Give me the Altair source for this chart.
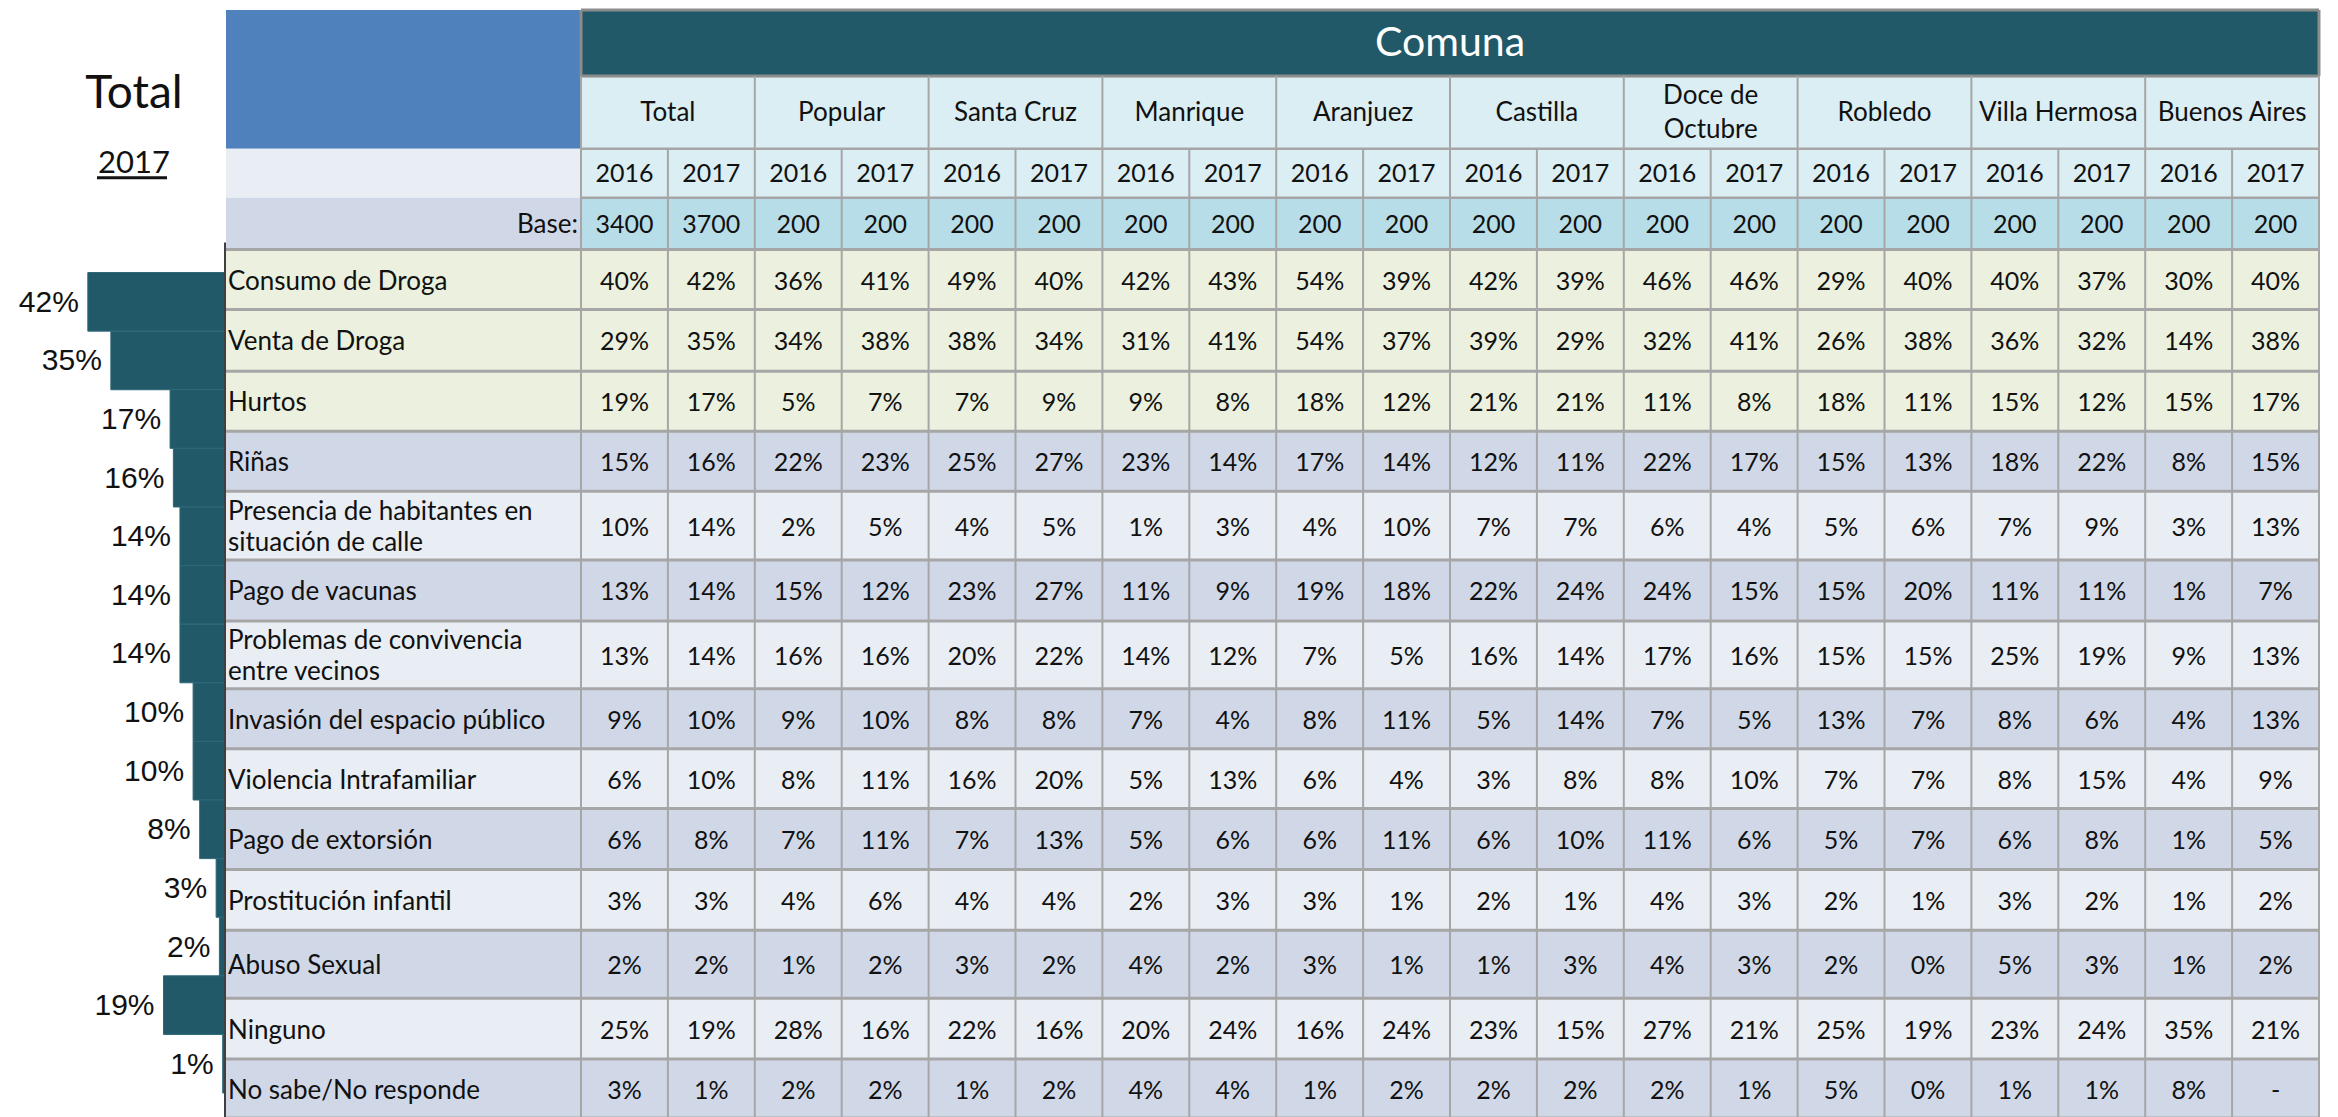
import altair as alt
import pandas as pd

# ---------------- data ----------------
districts = ["Total", "Popular", "Santa Cruz", "Manrique", "Aranjuez", "Castilla",
             "Doce de\nOctubre", "Robledo", "Villa Hermosa", "Buenos Aires"]
years = ["2016", "2017"]
base_sizes = [3400, 3700, 200, 200, 200, 200, 200, 200, 200, 200,
              200, 200, 200, 200, 200, 200, 200, 200, 200, 200]

problems = ["Consumo de Droga", "Venta de Droga", "Hurtos", "Riñas",
            "Presencia de habitantes en\nsituación de calle", "Pago de vacunas",
            "Problemas de convivencia\nentre vecinos", "Invasión del espacio público",
            "Violencia Intrafamiliar", "Pago de extorsión", "Prostitución infantil",
            "Abuso Sexual", "Ninguno", "No sabe/No responde"]

consumo_droga = [40, 42, 36, 41, 49, 40, 42, 43, 54, 39, 42, 39, 46, 46, 29, 40, 40, 37, 30, 40]
venta_droga = [29, 35, 34, 38, 38, 34, 31, 41, 54, 37, 39, 29, 32, 41, 26, 38, 36, 32, 14, 38]
hurtos = [19, 17, 5, 7, 7, 9, 9, 8, 18, 12, 21, 21, 11, 8, 18, 11, 15, 12, 15, 17]
rinas = [15, 16, 22, 23, 25, 27, 23, 14, 17, 14, 12, 11, 22, 17, 15, 13, 18, 22, 8, 15]
habitantes_calle = [10, 14, 2, 5, 4, 5, 1, 3, 4, 10, 7, 7, 6, 4, 5, 6, 7, 9, 3, 13]
pago_vacunas = [13, 14, 15, 12, 23, 27, 11, 9, 19, 18, 22, 24, 24, 15, 15, 20, 11, 11, 1, 7]
convivencia = [13, 14, 16, 16, 20, 22, 14, 12, 7, 5, 16, 14, 17, 16, 15, 15, 25, 19, 9, 13]
espacio_publico = [9, 10, 9, 10, 8, 8, 7, 4, 8, 11, 5, 14, 7, 5, 13, 7, 8, 6, 4, 13]
violencia_intrafamiliar = [6, 10, 8, 11, 16, 20, 5, 13, 6, 4, 3, 8, 8, 10, 7, 7, 8, 15, 4, 9]
pago_extorsion = [6, 8, 7, 11, 7, 13, 5, 6, 6, 11, 6, 10, 11, 6, 5, 7, 6, 8, 1, 5]
prostitucion_infantil = [3, 3, 4, 6, 4, 4, 2, 3, 3, 1, 2, 1, 4, 3, 2, 1, 3, 2, 1, 2]
abuso_sexual = [2, 2, 1, 2, 3, 2, 4, 2, 3, 1, 1, 3, 4, 3, 2, 0, 5, 3, 1, 2]
ninguno = [25, 19, 28, 16, 22, 16, 20, 24, 16, 24, 23, 15, 27, 21, 25, 19, 23, 24, 35, 21]
no_sabe = [3, 1, 2, 2, 1, 2, 4, 4, 1, 2, 2, 2, 2, 1, 5, 0, 1, 1, 8, None]

row_values = [consumo_droga, venta_droga, hurtos, rinas, habitantes_calle, pago_vacunas,
              convivencia, espacio_publico, violencia_intrafamiliar, pago_extorsion,
              prostitucion_infantil, abuso_sexual, ninguno, no_sabe]

# ---------------- layout / style ----------------
H = 1108
LEFT_W = 218
RIGHT_W = 2104
Y_TOP, Y_BOT = 5, 1115
k = H / (Y_BOT - Y_TOP)

X_LAB0, X_LAB1, X_END = 226, 581, 2319
NCOL = 20
COL_W = (X_END - X_LAB1) / NCOL
Y_HDR1, Y_DIST, Y_YEAR, Y_BASE = 71, 144, 193, 245
row_heights = [60, 62, 60, 60, 69, 61, 68, 60, 60, 61, 61, 68, 61, 59]
BAR_TOP, BAR_BOT = 268, 1090
PX_PER_PCT = 3.29
HDR_LH = 34
LAB_LH = 31

TEAL = "#215968"
BLUE = "#4F81BD"
HDR_BLUE = "#DAEEF3"
BASE_BLUE = "#B7DEE8"
GREEN = "#EBF1DE"
LAV_D = "#D0D8E8"
LAV_L = "#E9EDF4"
GRID = "#A6A6A6"
BORDER = "#8C8C8C"
TXT = "#111111"
FONT = "Lato"

row_bounds = [Y_BASE]
for h in row_heights:
    row_bounds.append(row_bounds[-1] + h)

def row_fill(i):
    if i < 3:
        return GREEN
    return LAV_D if (i - 3) % 2 == 0 else LAV_L

def block_shift(text, line_h):
    # move a multi-line block up so that it is centred on its row
    n = text.count("\n") + 1
    return (n - 1) / 2 * line_h / k

# ---------------- right panel: table ----------------
xs = alt.Scale(domain=[X_LAB0, X_LAB0 + RIGHT_W], nice=False, zero=False)
ys = alt.Scale(domain=[Y_TOP, Y_BOT], reverse=True, nice=False, zero=False)

bg_rows = [
    (X_LAB0, X_LAB1, Y_TOP, Y_DIST, BLUE),
    (X_LAB0, X_LAB1, Y_DIST, Y_YEAR, LAV_L),
    (X_LAB0, X_LAB1, Y_YEAR, Y_BASE, LAV_D),
    (X_LAB1, X_END, Y_TOP, Y_HDR1, TEAL),
    (X_LAB1, X_END, Y_HDR1, Y_YEAR, HDR_BLUE),
    (X_LAB1, X_END, Y_YEAR, Y_BASE, BASE_BLUE),
]
for i in range(len(problems)):
    bg_rows.append((X_LAB0, X_END, row_bounds[i], row_bounds[i + 1], row_fill(i)))
bg_df = pd.DataFrame(bg_rows, columns=["x", "x2", "y", "y2", "fill"])

rules = [
    (X_LAB1, X_END, Y_TOP, Y_TOP, BORDER, 3),
    (X_LAB1, X_END, Y_HDR1, Y_HDR1, BORDER, 3),
    (X_LAB1, X_END, Y_DIST, Y_DIST, GRID, 2.5),
    (X_LAB1, X_END, Y_YEAR, Y_YEAR, GRID, 2.5),
]
for yb in row_bounds:
    rules.append((X_LAB0, X_END, yb, yb, GRID, 3))
for j in range(NCOL + 1):
    xx = X_LAB1 + j * COL_W
    if j in (0, NCOL):
        rules.append((xx, xx, Y_TOP, Y_HDR1, BORDER, 3))
        y0 = Y_HDR1
    elif j % 2 == 0:
        y0 = Y_HDR1
    else:
        y0 = Y_DIST
    rules.append((xx, xx, y0, Y_BOT, GRID, 2))
rule_df = pd.DataFrame(rules, columns=["x", "x2", "y", "y2", "c", "w"])

dist_rows = []
for g, d in enumerate(districts):
    dist_rows.append((X_LAB1 + (2 * g + 1) * COL_W,
                      (Y_HDR1 + Y_DIST) / 2 - block_shift(d, HDR_LH), d))
dist_df = pd.DataFrame(dist_rows, columns=["x", "y", "t"])

hdr = []
for j in range(NCOL):
    cx = X_LAB1 + (j + 0.5) * COL_W
    hdr.append((cx, (Y_DIST + Y_YEAR) / 2, years[j % 2]))
    hdr.append((cx, (Y_YEAR + Y_BASE) / 2, str(base_sizes[j])))
hdr_df = pd.DataFrame(hdr, columns=["x", "y", "t"])

cells = []
for i, vals in enumerate(row_values):
    cy = (row_bounds[i] + row_bounds[i + 1]) / 2
    for j, v in enumerate(vals):
        cells.append((X_LAB1 + (j + 0.5) * COL_W, cy, "-" if v is None else f"{v}%"))
cell_df = pd.DataFrame(cells, columns=["x", "y", "t"])

lab_df = pd.DataFrame({
    "x": [X_LAB0 + 2] * len(problems),
    "y": [(row_bounds[i] + row_bounds[i + 1]) / 2 - block_shift(p, LAB_LH)
          for i, p in enumerate(problems)],
    "t": problems,
})
misc_df = pd.DataFrame({"x": [X_LAB1 - 3], "y": [(Y_YEAR + Y_BASE) / 2], "t": ["Base:"]})
comuna_df = pd.DataFrame({"x": [(X_LAB1 + X_END) / 2], "y": [(Y_TOP + Y_HDR1) / 2], "t": ["Comuna"]})

X = lambda: alt.X("x:Q", scale=xs, axis=None)
Y = lambda: alt.Y("y:Q", scale=ys, axis=None)

bg = alt.Chart(bg_df).mark_rect().encode(
    x=X(), x2="x2:Q", y=Y(), y2="y2:Q", color=alt.Color("fill:N", scale=None))
grid = alt.Chart(rule_df).mark_rule().encode(
    x=X(), x2="x2:Q", y=Y(), y2="y2:Q",
    color=alt.Color("c:N", scale=None), strokeWidth=alt.StrokeWidth("w:Q", scale=None))
comuna = alt.Chart(comuna_df).mark_text(font=FONT, fontSize=41, color="white",
                                        baseline="middle", dy=1).encode(x=X(), y=Y(), text="t:N")
dist_txt = alt.Chart(dist_df).mark_text(font=FONT, fontSize=26, color=TXT, baseline="middle",
                                        lineBreak="\n", lineHeight=HDR_LH, dy=1).encode(
    x=X(), y=Y(), text="t:N")
hdr_txt = alt.Chart(hdr_df).mark_text(font=FONT, fontSize=25, color=TXT, baseline="middle",
                                      dy=1).encode(x=X(), y=Y(), text="t:N")
cell_txt = alt.Chart(cell_df).mark_text(font=FONT, fontSize=25, color=TXT, baseline="middle",
                                        dy=2).encode(x=X(), y=Y(), text="t:N")
lab_txt = alt.Chart(lab_df).mark_text(font=FONT, fontSize=26, color=TXT, baseline="middle", align="left",
                                      lineBreak="\n", lineHeight=LAB_LH, dy=2).encode(
    x=X(), y=Y(), text="t:N")
base_txt = alt.Chart(misc_df).mark_text(font=FONT, fontSize=26, color=TXT, baseline="middle", align="right",
                                        dy=1).encode(x=X(), y=Y(), text="t:N")

right = alt.layer(bg, grid, comuna, dist_txt, hdr_txt, cell_txt, lab_txt, base_txt).properties(
    width=RIGHT_W, height=H)

# ---------------- left panel: Total 2017 bars ----------------
total_2017 = [vals[1] for vals in row_values]
bar_df = pd.DataFrame({"problem": problems, "pct": total_2017,
                       "label": [f"{v}%" for v in total_2017]})
px = alt.Scale(domain=[0, LEFT_W / PX_PER_PCT], reverse=True, nice=False, zero=False)
bar_y = alt.Scale(domain=problems, range=[(BAR_TOP - Y_TOP) * k, (BAR_BOT - Y_TOP) * k],
                  paddingInner=0, paddingOuter=0)

bars = alt.Chart(bar_df).mark_bar(color=TEAL, stroke="#2E6878", strokeWidth=1).encode(
    x=alt.X("pct:Q", scale=px, axis=None), x2=alt.datum(0),
    y=alt.Y("problem:N", scale=bar_y, sort=problems, axis=None))
bar_lab = alt.Chart(bar_df).mark_text(font="Liberation Sans", fontSize=30, color=TXT,
                                      align="right", baseline="middle", dx=-9, dy=1).encode(
    x=alt.X("pct:Q", scale=px, axis=None),
    y=alt.Y("problem:N", scale=bar_y, sort=problems, axis=None), text="label:N")

title_df = pd.DataFrame({"t": ["Total", "2017"], "y": [103, 168], "fs": [46, 31]})
ttl = alt.Chart(title_df).mark_text(font=FONT, color=TXT, align="center", baseline="alphabetic").encode(
    x=alt.value(126), y=alt.Y("y:Q", scale=ys, axis=None), text="t:N",
    size=alt.Size("fs:Q", scale=None))
uline_df = pd.DataFrame({"y": [173]})
uline = alt.Chart(uline_df).mark_rule(color=TXT, strokeWidth=3).encode(
    x=alt.value(89), x2=alt.value(159), y=alt.Y("y:Q", scale=ys, axis=None))
axis_df = pd.DataFrame({"y": [238], "y2": [Y_BOT]})
axis_rule = alt.Chart(axis_df).mark_rule(color="#404040", strokeWidth=2).encode(
    x=alt.value(217), y=alt.Y("y:Q", scale=ys, axis=None), y2="y2:Q")

left = alt.layer(bars, bar_lab, ttl, uline, axis_rule).resolve_scale(y="independent").properties(
    width=LEFT_W, height=H)

chart = alt.hconcat(left, right, spacing=0, bounds="flush").properties(padding=0).configure_view(
    stroke=None)

chart.save("out.html", embed_options={"renderer": "svg", "actions": False})
